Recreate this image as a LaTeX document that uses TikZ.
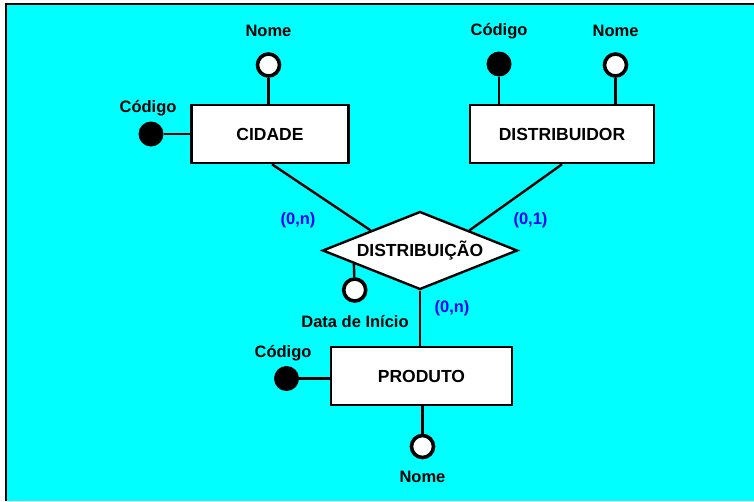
\documentclass[tikz,border=0pt]{standalone}
\usepackage{fontspec}
\setmainfont{Liberation Sans}
\usepackage{tikz}
\usetikzlibrary{shapes.geometric, calc}

\definecolor{fundo}{RGB}{0,255,255}
\definecolor{card}{RGB}{0,0,255}

\tikzset{
    entidade/.style={draw, fill=white, line width=2.6pt, minimum height=58pt},
    relacao/.style={draw, fill=white, diamond, aspect=2.5, line width=2.4pt, inner sep=0pt,
        minimum width=195pt, minimum height=78pt},
    atrib/.style={circle, draw, fill=white, line width=3.6pt, minimum size=22pt, inner sep=0pt},
    chave/.style={circle, fill=black, minimum size=25pt, inner sep=0pt},
    rotulo/.style={font=\fontsize{16.5}{19}\selectfont\bfseries},
    cardin/.style={text=card, font=\fontsize{16.5}{19}\selectfont\bfseries},
    liga/.style={line width=2.4pt}
}

\begin{document}
\begin{tikzpicture}[x=1pt, y=-1pt, font=\fontsize{17.5}{20}\selectfont\bfseries]

    % Fundo e moldura
    \useasboundingbox (0,0) rectangle (754,501);
    \fill[fundo] (6,4) rectangle (754,501);
    \draw[line width=2.6pt] (6,501) -- (6,4) -- (754,4);

    % Entidades e relacionamento
    \node[entidade, minimum width=157pt] (cidade) at (270,134) {CIDADE};
    \node[entidade, minimum width=184pt] (distribuidor) at (562,134) {DISTRIBUIDOR};
    \node[entidade, minimum width=181pt] (produto) at (421.5,376) {PRODUTO};
    \node[relacao] (distribuicao) at (420,250.5) {DISTRIBUIÇÃO};

    % Atributos
    \node[atrib] (cidNome) at (268.5,65) {};
    \node[chave] (cidCodigo) at (151,134) {};
    \node[chave] (disCodigo) at (499,64) {};
    \node[atrib] (disNome) at (615.5,65) {};
    \node[atrib] (dataIni) at (354.7,290) {};
    \node[chave] (proCodigo) at (286.5,378.5) {};
    \node[atrib] (proNome) at (422.5,446.5) {};

    % Ligacoes
    \draw[liga] (cidNome) -- (cidNome |- cidade.north);
    \draw[liga] (cidCodigo) -- (cidade.west |- cidCodigo);
    \draw[liga] (disCodigo) -- (disCodigo |- distribuidor.north);
    \draw[liga] (disNome) -- (disNome |- distribuidor.north);
    \draw[liga] ($(cidade.south)+(2,0)$) -- (distribuicao.north west);
    \draw[liga] (distribuidor.south) -- (distribuicao.north east);
    \draw[liga] (dataIni) -- ($(distribuicao.west)!0.33!(distribuicao.south)$);
    \draw[liga] (distribuicao.south) -- (distribuicao.south |- produto.north);
    \draw[liga] (proCodigo) -- (produto.west |- proCodigo);
    \draw[liga] (proNome) -- (proNome |- produto.south);

    % Nomes dos atributos
    \node[rotulo] (tCidNome) at (268.5,31) {Nome};
    \node[rotulo] (tCidCodigo) at (148,108) {Código};
    \node[rotulo] (tDisCodigo) at (499,31) {Código};
    \node[rotulo] (tDisNome) at (615.5,31) {Nome};
    \node[rotulo] (tDataIni) at (355,322) {Data de Início};
    \node[rotulo] (tProCodigo) at (283,353) {Código};
    \node[rotulo] (tProNome) at (422.5,477) {Nome};

    % Cardinalidades
    \node[cardin] (cCidade) at (298,220) {(0,n)};
    \node[cardin] (cDistribuidor) at (530.5,220) {(0,1)};
    \node[cardin] (cProduto) at (452,308) {(0,n)};

\end{tikzpicture}
\end{document}
